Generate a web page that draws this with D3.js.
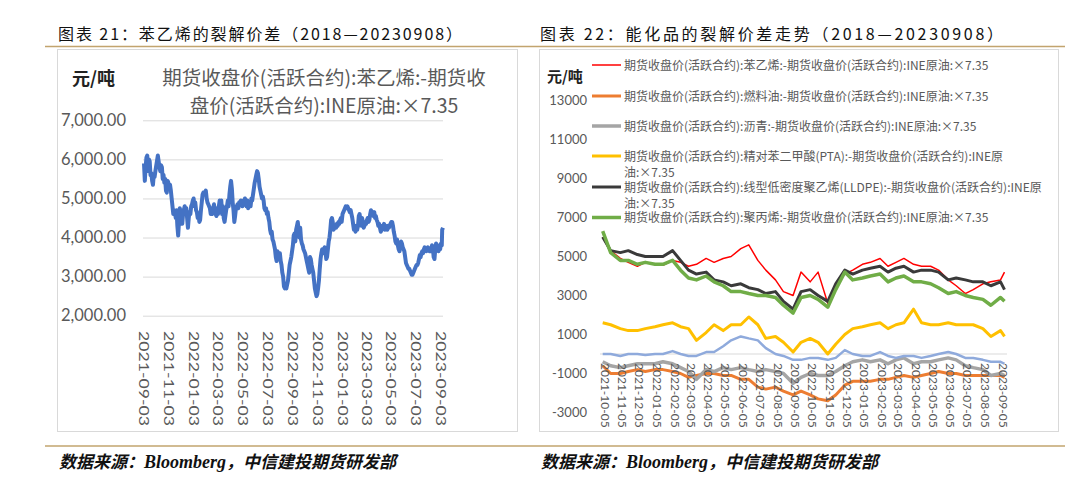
<!DOCTYPE html>
<html>
<head>
<meta charset="utf-8">
<script src="https://cdn.jsdelivr.net/npm/d3@7/dist/d3.min.js"></script>
<style>
body { margin: 0; background: #fff; }
.cjk { font-family: "Noto Sans CJK SC", sans-serif; }
.num { font-family: Lato, "Open Sans", sans-serif; fill: #595959; }
</style>
</head>
<body>
<svg id="page" width="1080" height="479"></svg>
<script>
// ---- left chart: styrene crack spread, [day offset from leftStart, value]
var leftStart = '2021-09-03';
var leftEnd = '2023-09-08';
var leftYTicks = [2000, 3000, 4000, 5000, 6000, 7000];
var leftTickLabels = ['2021-09-03', '2021-11-03', '2022-01-03', '2022-03-03', '2022-05-03', '2022-07-03',
    '2022-09-03', '2022-11-03', '2023-01-03', '2023-03-03', '2023-05-03', '2023-07-03', '2023-09-03'];
var styreneDaily = [[0,5900],[2,5450],[4,5800],[6,6050],[8,6100],[10,5700],[12,6000],[14,5950],[16,5600],[18,5650],
    [20,5450],[22,5350],[24,5600],[26,5550],[28,5700],[31,5900],[34,6100],[36,5950],[38,5800],[40,5700],[42,5850],
    [44,5800],[46,5500],[48,5600],[50,5400],[52,5500],[54,5200],[56,5150],[58,5450],[60,5400],[62,5300],[64,5350],
    [66,5200],[68,5000],[70,4800],[72,4600],[74,4700],[76,4650],[78,4500],[80,4700],[82,4300],[84,4050],[86,4400],
    [88,4750],[90,4500],[92,4700],[94,4350],[96,4600],[98,4700],[100,4800],[102,4650],[104,4750],[106,4500],[108,4250],
    [110,4500],[112,4650],[114,4600],[116,4800],[118,4850],[120,4950],[122,5000],[124,4800],[126,4900],[128,4700],
    [130,4650],[132,4500],[134,4600],[136,4400],[138,4450],[140,4700],[142,4900],[144,5100],[146,5150],[148,5100],
    [150,5150],[152,5200],[154,5000],[156,4900],[158,4850],[160,4800],[162,4750],[164,4600],[166,4700],[168,4600],
    [170,4750],[172,4850],[174,4700],[176,4600],[178,4550],[180,4750],[182,4600],[184,4800],[186,4950],[188,4750],
    [190,4950],[192,4600],[194,4800],[196,4500],[198,4400],[200,4550],[202,4700],[204,4800],[206,4950],[208,4800],
    [210,5100],[212,5300],[214,5450],[216,5250],[218,4900],[220,4700],[222,4400],[224,4550],[226,4750],[228,4800],
    [230,4850],[232,4750],[234,4900],[236,4850],[238,4950],[240,4900],[242,4800],[244,4900],[246,4950],[248,5000],
    [250,4900],[252,4800],[254,4950],[256,4750],[258,4850],[260,4900],[262,4800],[264,5000],[266,4950],[268,5100],
    [270,5250],[272,5400],[274,5500],[276,5600],[278,5700],[280,5650],[282,5500],[284,5300],[286,5200],[288,5100],
    [290,5000],[292,5050],[294,4950],[296,4750],[298,4700],[300,4750],[302,4600],[304,4650],[306,4500],[308,4400],
    [310,4200],[312,4100],[314,4150],[316,3950],[318,3900],[320,3800],[322,3700],[324,3500],[326,3400],[328,3650],
    [330,3550],[332,3450],[334,3600],[336,3400],[338,3300],[340,3100],[342,3000],[344,2750],[346,2700],[348,2750],
    [350,2700],[352,2800],[354,2900],[356,3100],[358,3300],[360,3400],[362,3500],[364,3650],[366,3800],[368,4050],
    [370,4100],[372,3900],[374,4200],[376,4300],[378,4400],[380,4200],[382,4000],[384,4250],[386,3950],[388,3850],
    [390,3800],[392,3700],[394,3650],[396,3600],[398,3500],[400,3400],[402,3300],[404,3200],[406,3100],[408,3500],
    [410,3450],[412,3300],[414,3200],[416,3100],[418,2900],[420,2700],[422,2600],[424,2500],[426,2550],[428,2700],
    [430,2900],[432,3200],[434,3450],[436,3600],[438,3700],[440,3700],[442,3600],[444,3750],[446,3700],[448,3450],
    [450,3500],[452,3700],[454,3900],[456,4000],[458,4200],[460,4450],[462,4500],[464,4400],[466,4200],[468,4250],
    [470,4300],[472,4250],[474,4350],[476,4300],[478,4400],[480,4350],[482,4450],[484,4500],[486,4400],[488,4600],
    [490,4650],[492,4700],[494,4750],[496,4800],[498,4750],[500,4800],[502,4750],[504,4700],[506,4650],[508,4700],
    [510,4600],[512,4500],[514,4350],[516,4200],[518,4300],[520,4150],[522,4250],[524,4200],[526,4300],[528,4550],
    [530,4600],[532,4450],[534,4300],[536,4500],[538,4400],[540,4250],[542,4300],[544,4400],[546,4350],[548,4450],
    [550,4500],[552,4400],[554,4450],[556,4600],[558,4700],[560,4650],[562,4600],[564,4550],[566,4650],[568,4500],
    [570,4550],[572,4450],[574,4400],[576,4300],[578,4350],[580,4250],[582,4150],[584,4200],[586,4300],[588,4250],
    [590,4350],[592,4200],[594,4300],[596,4250],[598,4200],[600,4300],[602,4250],[604,4300],[606,4350],[608,4400],
    [610,4400],[612,4300],[614,4150],[616,4050],[618,3900],[620,3850],[622,3950],[624,3800],[626,3700],[628,3650],
    [630,3750],[632,3900],[634,3850],[636,3750],[638,3700],[640,3650],[642,3500],[644,3350],[646,3300],[648,3250],
    [650,3200],[652,3200],[654,3150],[656,3100],[658,3050],[660,3050],[662,3100],[664,3150],[666,3200],[668,3250],
    [670,3300],[672,3300],[674,3350],[676,3450],[678,3550],[680,3500],[682,3600],[684,3650],[686,3600],[688,3700],
    [690,3750],[692,3700],[694,3650],[696,3700],[698,3750],[700,3700],[702,3650],[704,3700],[706,3650],[708,3800],
    [710,3750],[712,3500],[714,3450],[716,3700],[718,3850],[720,3750],[722,3800],[724,3650],[726,3750],[728,3700],
    [730,3850],[732,3800],[733,4200],[735,4250]];

// ---- right chart: spreads sampled on these dates
var rightDates = ['2021-10-01','2021-10-15','2021-11-01','2021-11-15','2021-12-01','2021-12-15','2022-01-01','2022-01-15',
    '2022-02-01','2022-02-15','2022-03-01','2022-03-15','2022-04-01','2022-04-15','2022-05-01','2022-05-15','2022-06-01',
    '2022-06-15','2022-07-01','2022-07-15','2022-08-01','2022-08-15','2022-09-01','2022-09-15','2022-10-01','2022-10-15',
    '2022-11-01','2022-11-15','2022-12-01','2022-12-15','2023-01-01','2023-01-15','2023-02-01','2023-02-15','2023-03-01',
    '2023-03-15','2023-04-01','2023-04-15','2023-05-01','2023-05-15','2023-06-01','2023-06-15','2023-07-01','2023-07-15',
    '2023-08-01','2023-08-15','2023-09-01','2023-09-08'];
var styreneSpread = [6000,5300,4900,4700,4500,4700,4600,4550,4800,4700,4500,4600,4900,4700,4900,5000,5400,5600,4800,4300,
    3800,3200,3000,4200,3700,4200,2600,3600,4100,4300,4600,4700,4900,4500,4700,4900,4600,4500,4500,4300,3800,3500,3100,3300,
    3600,3700,3800,4200];
var fuelOilSpread = [-600,-1000,-1000,-900,-800,-900,-800,-800,-900,-1000,-1200,-1100,-1000,-1000,-1100,-1100,-1300,-1300,
    -1700,-1800,-1700,-1900,-2100,-1900,-2100,-2300,-2400,-2100,-1600,-1400,-1400,-1400,-1300,-1300,-1200,-1100,-1200,-1100,
    -1000,-900,-1000,-1000,-1100,-1100,-1100,-1100,-1100,-1200];
var asphaltSpread = [-400,-600,-700,-600,-500,-500,-500,-400,-500,-700,-900,-1300,-800,-900,-700,-800,-700,-800,-900,-800,
    -900,-1000,-1500,-1200,-1000,-1100,-1100,-900,-600,-400,-300,-400,-300,-500,-300,-200,-500,-400,-400,-300,-200,-300,-600,
    -700,-800,-1100,-1000,-1100];
var ptaSpread = [1600,1500,1300,1200,1200,1300,1400,1500,1600,1400,1300,700,1100,1500,1200,1500,1500,1900,1500,800,900,600,
    100,600,800,600,0,500,1000,1300,1400,1500,1600,1300,1500,1600,2300,1600,1500,1500,1600,1500,1500,1500,1300,900,1200,900];
var lldpeSpread = [6000,5300,5200,5300,5100,5000,5000,5000,5300,4800,4300,4100,4200,3800,3700,3500,3600,3400,3300,3100,3200,
    2700,2300,3200,3300,3000,2700,3600,4300,4100,4300,4400,4500,4200,4400,4500,4200,4300,4300,4200,3800,3900,3800,3700,3700,
    3500,3700,3300];
var ppSpread = [6300,5200,4800,4800,4600,4700,4600,4600,4800,4300,3900,3800,4000,3700,3500,3200,3200,3100,3000,3000,2900,
    2500,2100,2900,3000,2800,2400,3300,4200,3800,3900,4000,4100,3700,3900,4000,3700,3700,3600,3400,3100,3200,3000,2900,2800,
    2500,2900,2700];
var otherSpread = [0,0,-100,0,0,-50,0,0,150,0,-100,-100,100,100,400,700,900,800,700,300,0,-100,-300,-300,-200,-200,-300,-200,
    200,0,-100,-100,100,-100,-200,-100,-100,-200,-100,0,100,0,-200,-200,-300,-400,-400,-500];
var rightYTicks = [-3000, -1000, 1000, 3000, 5000, 7000, 9000, 11000, 13000];
var rightTickLabels = ['2021-10-05','2021-11-05','2021-12-05','2022-01-05','2022-02-05','2022-03-05','2022-04-05','2022-05-05',
    '2022-06-05','2022-07-05','2022-08-05','2022-09-05','2022-10-05','2022-11-05','2022-12-05','2023-01-05','2023-02-05',
    '2023-03-05','2023-04-05','2023-05-05','2023-06-05','2023-07-05','2023-08-05','2023-09-05'];
var legendNames = [
    ['期货收盘价(活跃合约):苯乙烯:-期货收盘价(活跃合约):INE原油:×7.35'],
    ['期货收盘价(活跃合约):燃料油:-期货收盘价(活跃合约):INE原油:×7.35'],
    ['期货收盘价(活跃合约):沥青:-期货收盘价(活跃合约):INE原油:×7.35'],
    ['期货收盘价(活跃合约):精对苯二甲酸(PTA):-期货收盘价(活跃合约):INE原', '油:×7.35'],
    ['期货收盘价(活跃合约):线型低密度聚乙烯(LLDPE):-期货收盘价(活跃合约):INE原', '油:×7.35'],
    ['期货收盘价(活跃合约):聚丙烯:-期货收盘价(活跃合约):INE原油:×7.35']
];

var parse = d3.timeParse('%Y-%m-%d');
var svg = d3.select('#page');
var gold = '#C2A46E';

function drawFrame() {
    svg.append('line').attr('x1', 45).attr('x2', 1065).attr('y1', 46.5).attr('y2', 46.5)
        .style('stroke', gold).style('stroke-width', 1.5);
    svg.append('line').attr('x1', 45).attr('x2', 1065).attr('y1', 446).attr('y2', 446)
        .style('stroke', gold).style('stroke-width', 1.5);
    svg.append('rect').attr('x', 57.5).attr('y', 49.5).attr('width', 460).attr('height', 382)
        .style('fill', 'none').style('stroke', '#d9d9d9');
    svg.append('rect').attr('x', 539.5).attr('y', 49.5).attr('width', 519).attr('height', 382)
        .style('fill', 'none').style('stroke', '#d9d9d9');
    // [x, title, title width]
    var titles = [[58, '图表 21：苯乙烯的裂解价差（2018—20230908）', 404], [540, '图表 22：能化品的裂解价差走势（2018—20230908）', 463]];
    titles.forEach(function(t) {
        svg.append('text').attr('class', 'cjk').attr('x', t[0]).attr('y', 40)
            .attr('textLength', t[2]).attr('lengthAdjust', 'spacing')
            .style('font-size', '16px').style('fill', '#111')
            .text(t[1]);
        var foot = svg.append('text').attr('class', 'cjk').attr('x', t[0] + 1).attr('y', 468)
            .style('font-size', '17px').style('font-weight', 'bold').style('font-style', 'italic').style('fill', '#111');
        foot.append('tspan').text('数据来源：');
        foot.append('tspan').style('font-family', '"Liberation Serif", serif').style('font-size', '18px').text('Bloomberg');
        foot.append('tspan').text('，中信建投期货研发部');
    });
}

function drawLeft() {
    var x = d3.scaleTime().domain([parse(leftStart), parse(leftEnd)]).range([144, 443]);
    var y = d3.scaleLinear().domain([2000, 7000]).range([315.7, 120.3]);
    var start = parse(leftStart);

    var yAxis = svg.append('g').attr('transform', 'translate(143,0)')
        .call(d3.axisLeft(y).tickValues(leftYTicks).tickSize(-300).tickPadding(17).tickFormat(d3.format(',.2f')));
    yAxis.select('.domain').remove();
    yAxis.selectAll('.tick line').style('stroke', '#d9d9d9');
    yAxis.selectAll('.tick text').attr('class', 'num').style('font-size', '16.5px');

    svg.append('text').attr('class', 'cjk').attr('x', 72).attr('y', 85)
        .style('font-size', '18px').style('font-weight', 'bold').style('fill', '#222').text('元/吨');
    svg.append('text').attr('class', 'cjk').attr('x', 324).attr('y', 85).attr('text-anchor', 'middle')
        .style('font-size', '19.5px').style('fill', '#595959').text('期货收盘价(活跃合约):苯乙烯:-期货收');
    svg.append('text').attr('class', 'cjk').attr('x', 324).attr('y', 113).attr('text-anchor', 'middle')
        .style('font-size', '19.5px').style('fill', '#595959').text('盘价(活跃合约):INE原油:×7.35');

    var line = d3.line()
        .x(function(d) { return x(d3.timeDay.offset(start, d[0])); })
        .y(function(d) { return y(d[1]); });
    svg.append('path').datum(styreneDaily).attr('d', line)
        .style('fill', 'none').style('stroke', '#4472C4').style('stroke-width', 4)
        .style('stroke-linejoin', 'round');

    leftTickLabels.forEach(function(d) {
        svg.append('text').attr('class', 'num')
            .attr('transform', 'translate(' + x(parse(d)) + ',331) rotate(90)')
            .attr('dy', '0.35em').attr('textLength', 95).attr('lengthAdjust', 'spacingAndGlyphs')
            .style('font-size', '13px').text(d);
    });
}

function drawRight() {
    var x = d3.scaleTime().domain([parse('2021-10-01'), parse('2023-09-08')]).range([602.7, 1004.5]);
    var y = d3.scaleLinear().domain([-3000, 13000]).range([412.5, 100.5]);
    var dates = rightDates.map(parse);

    var yAxis = svg.append('g').attr('transform', 'translate(600,0)')
        .call(d3.axisLeft(y).tickValues(rightYTicks).tickSize(0).tickPadding(13)
            .tickFormat(function(d) { return String(d); }));
    yAxis.select('.domain').remove();
    yAxis.selectAll('.tick text').attr('class', 'num').style('font-size', '13px');

    svg.append('line').attr('x1', 600).attr('x2', 1007).attr('y1', y(0)).attr('y2', y(0))
        .style('stroke', '#d9d9d9');

    svg.append('text').attr('class', 'cjk').attr('x', 547).attr('y', 82)
        .style('font-size', '15px').style('font-weight', 'bold').style('fill', '#222').text('元/吨');

    var series = [
        { values: styreneSpread, color: '#FF0000', width: 1.5 },
        { values: fuelOilSpread, color: '#ED7D31', width: 3 },
        { values: asphaltSpread, color: '#A5A5A5', width: 3.5 },
        { values: ptaSpread, color: '#FFC000', width: 3 },
        { values: lldpeSpread, color: '#3A3A3A', width: 3 },
        { values: ppSpread, color: '#70AD47', width: 3.5 },
        { values: otherSpread, color: '#8FAADC', width: 2.5 }
    ];
    var line = d3.line()
        .x(function(d, i) { return x(dates[i]); })
        .y(function(d) { return y(d); });
    series.forEach(function(s) {
        svg.append('path').datum(s.values).attr('d', line)
            .style('fill', 'none').style('stroke', s.color).style('stroke-width', s.width)
            .style('stroke-linejoin', 'round');
    });

    rightTickLabels.forEach(function(d) {
        svg.append('text').attr('class', 'num')
            .attr('transform', 'translate(' + x(parse(d)) + ',' + (y(0) + 9) + ') rotate(90)')
            .attr('dy', '0.35em').style('font-size', '12px').text(d);
    });

    // legend, wrapped entries continue on a second line like the original
    var rowY = [65, 96, 126, 156, 187, 217.5];
    legendNames.forEach(function(name, i) {
        var s = series[i];
        svg.append('line').attr('x1', 592).attr('x2', 621).attr('y1', rowY[i]).attr('y2', rowY[i])
            .style('stroke', s.color).style('stroke-width', s.width);
        name.forEach(function(part, j) {
            svg.append('text').attr('class', 'cjk').attr('x', 624).attr('y', rowY[i] + 4.5 + j * 16)
                .style('font-size', '12px').style('fill', '#595959').text(part);
        });
    });
}

drawFrame();
drawLeft();
drawRight();
</script>
</body>
</html>
